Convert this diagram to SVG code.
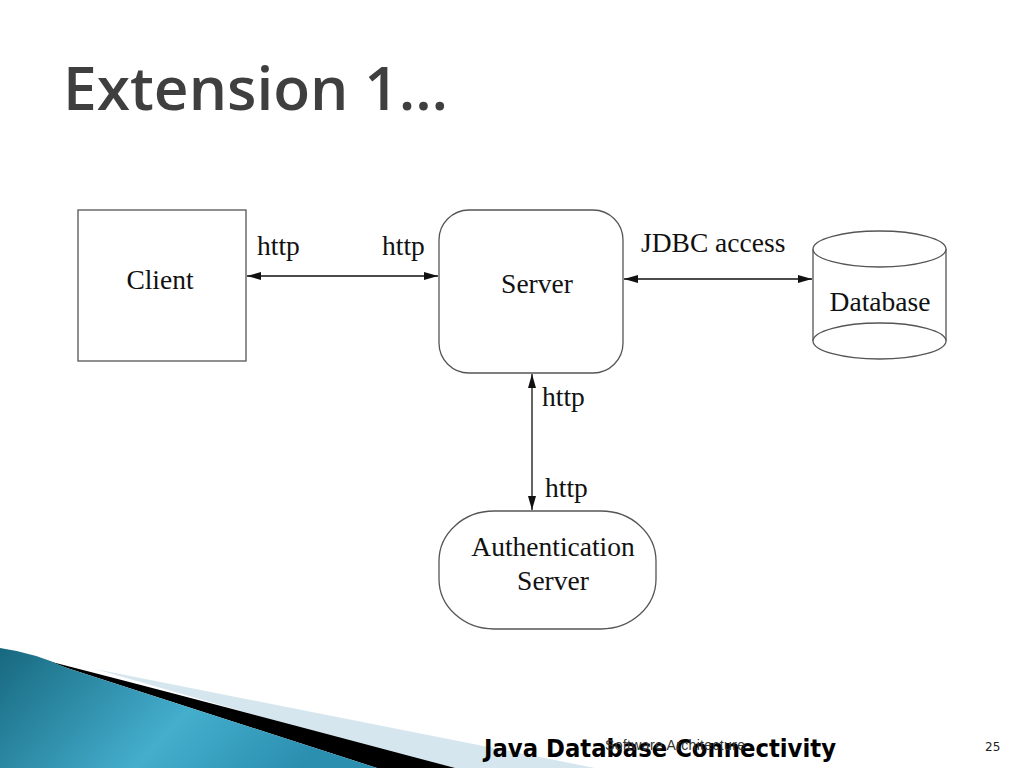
<svg xmlns="http://www.w3.org/2000/svg" width="1024" height="768" viewBox="0 0 1024 768">
<defs>
<style>
.box{fill:#fff;stroke:#555;stroke-width:1.3}
.t{font-family:"Liberation Serif","Times New Roman",serif;font-size:27.5px;fill:#111}
.c{stroke:#111;stroke-width:1.3;fill:none;marker-start:url(#ah);marker-end:url(#ah)}
</style>
<marker id="ah" viewBox="0 0 14 8" refX="14" refY="4" markerWidth="14" markerHeight="8" markerUnits="userSpaceOnUse" orient="auto-start-reverse">
<path d="M0,0 L14,4 L0,8 Z" fill="#111"/>
</marker>
<linearGradient id="teal" x1="0" y1="0" x2="1" y2="0.3">
<stop offset="0" stop-color="#17687f"/>
<stop offset="0.6" stop-color="#44aecd"/>
<stop offset="1" stop-color="#2b8fb0"/>
</linearGradient>
</defs>
<rect width="1024" height="768" fill="#fff"/>
<g id="decoration">
<path d="M95,669 L595,768 L440,768 Z" fill="#d6e6ee"/>
<path d="M48,661 Q200,700 455,768 L377,768 L67,668 Z" fill="#000"/>
<path d="M0,648 Q35,653 67,668 L377,768 L0,768 Z" fill="url(#teal)"/>
</g>
<text x="63" y="110" font-family="Open Sans, DejaVu Sans, sans-serif" font-weight="600" font-size="60" textLength="385" lengthAdjust="spacingAndGlyphs" fill="#3f3f3f">Extension 1…</text>
<g id="connectors">
<line class="c" x1="247" y1="276" x2="438" y2="276"/>
<line class="c" x1="624" y1="279" x2="812" y2="279"/>
<line class="c" x1="532" y1="374" x2="532" y2="510"/>
<text class="t" x="257" y="255">http</text>
<text class="t" x="382" y="255">http</text>
<text class="t" x="641" y="252">JDBC access</text>
<text class="t" x="542" y="406">http</text>
<text class="t" x="545" y="497">http</text>
</g>
<g id="client">
<rect class="box" x="78" y="210" width="168" height="151"/>
<text class="t" x="160" y="289" text-anchor="middle">Client</text>
</g>
<g id="server">
<rect class="box" x="439" y="210" width="184" height="163" rx="30" ry="30"/>
<text class="t" x="537" y="293" text-anchor="middle">Server</text>
</g>
<g id="database">
<path class="box" d="M813,249 L813,341 A66.5,18 0 0 0 946,341 L946,249"/>
<ellipse class="box" cx="879.5" cy="249" rx="66.5" ry="18"/>
<path class="box" d="M813,341 A66.5,18 0 0 1 946,341" fill="none"/>
<text class="t" x="880" y="311" text-anchor="middle">Database</text>
</g>
<g id="auth">
<rect class="box" x="439" y="511" width="217" height="118" rx="55" ry="50"/>
<text class="t" x="553" y="556" text-anchor="middle">Authentication</text>
<text class="t" x="553" y="590" text-anchor="middle">Server</text>
</g>
<g id="footer">
<text x="484" y="757" font-family="DejaVu Sans, Verdana, sans-serif" font-weight="bold" font-size="24" textLength="352" lengthAdjust="spacingAndGlyphs" fill="#000">Java Database Connectivity</text>
<text x="605" y="750" font-family="Liberation Sans, Arial, sans-serif" font-size="14" textLength="140" fill="#333">Software Architecture</text>
<text x="985" y="751" font-family="DejaVu Sans, sans-serif" font-size="12" fill="#222">25</text>
</g>
</svg>
